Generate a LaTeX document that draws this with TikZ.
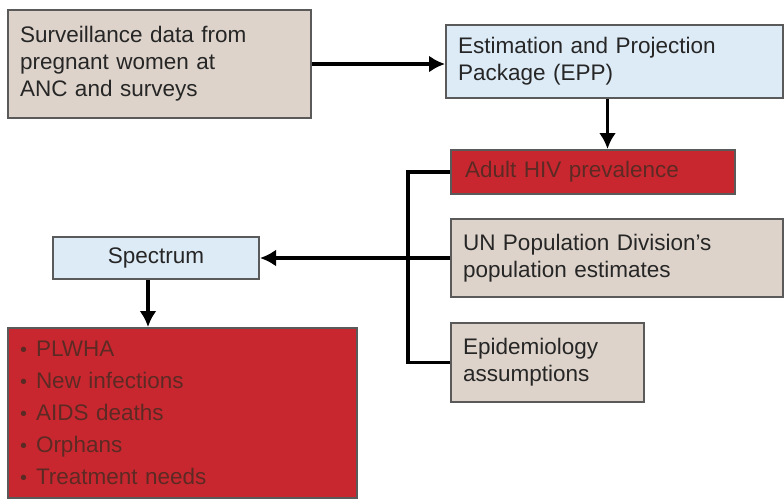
\documentclass[tikz,border=0pt]{standalone}
\usepackage{fontspec}
\setmainfont{Liberation Sans}
\usetikzlibrary{arrows.meta,positioning}
\definecolor{tanfill}{HTML}{DDD3CA}
\definecolor{bluefill}{HTML}{DDEBF7}
\definecolor{redfill}{HTML}{C9272F}
\definecolor{boxline}{HTML}{5A5A5A}
\definecolor{redtext}{HTML}{5C2A24}
\tikzset{
  box/.style={draw=boxline, line width=2pt, rectangle, inner xsep=12pt, inner ysep=0pt,
    align=left, font=\fontsize{22.5}{27}\selectfont, text=black!85},
  tanbox/.style={box, fill=tanfill},
  bluebox/.style={box, fill=bluefill},
  redbox/.style={box, fill=redfill, text=redtext},
  conn/.style={line width=3.5pt, black},
  arr/.style={conn, -{Latex[length=16pt,width=17pt]}},
}
\newcommand{\bl}[1]{\makebox[16pt][l]{\raisebox{0pt}{\fontsize{20}{20}\selectfont\textbullet}}#1}
\begin{document}
\begin{tikzpicture}[x=1pt,y=-1pt]
\useasboundingbox[fill=white] (0,0) rectangle (784,501);
\node[tanbox, minimum width=303pt, minimum height=108pt, text width=279pt] (surv) at (159.5,64)
  {Surveillance data from\\pregnant women at\\ANC and surveys};
\node[bluebox, minimum width=337pt, minimum height=73pt, text width=313pt] (epp) at (614.5,61.5)
  {Estimation and Projection\\Package (EPP)};
\node[redbox, minimum width=284pt, minimum height=44pt, text width=256pt, inner xsep=14pt] (prev) at (593,172)
  {Adult HIV prevalence};
\node[tanbox, minimum width=332pt, minimum height=78pt, text width=308pt] (un) at (617,258)
  {UN Population Division's\\population estimates};
\node[tanbox, minimum width=193pt, minimum height=79pt, text width=169pt] (epi) at (547.5,362.5)
  {Epidemiology\\assumptions};
\node[bluebox, minimum width=206pt, minimum height=42pt, align=center] (spec) at (156,258)
  {Spectrum};
\node[redbox, minimum width=349pt, minimum height=170pt, text width=325pt,
  font=\fontsize{22.5}{32}\selectfont] (out) at (182.5,413)
  {\bl{PLWHA}\\\bl{New infections}\\\bl{AIDS deaths}\\\bl{Orphans}\\\bl{Treatment needs}};
\coordinate (j) at (408,258);
\draw[arr] (surv.east) -- (surv.east -| epp.west);
\draw[arr] ([xshift=-7pt]epp.south) -- ([xshift=-7pt]epp.south |- prev.north);
\draw[conn] (prev.west) -- (prev.west -| j) |- (epi.west);
\draw[arr] (un.west) -- (spec.east);
\draw[arr] ([xshift=-8pt]spec.south) -- ([xshift=-8pt]spec.south |- out.north);
\end{tikzpicture}
\end{document}
